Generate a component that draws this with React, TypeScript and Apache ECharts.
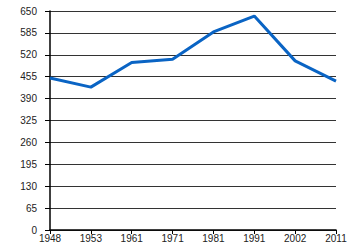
import React, { useEffect, useRef } from "react";
import * as echarts from "echarts";

const years = ["1948", "1953", "1961", "1971", "1981", "1991", "2002", "2011"];
const values = [451, 424, 497, 507, 588, 635, 502, 442];

export default function App() {
  const ref = useRef<HTMLDivElement>(null);
  useEffect(() => {
    const chart = echarts.init(ref.current!, null, { renderer: "svg" });
    chart.setOption({
      animation: false,
      backgroundColor: "#ffffff",
      grid: { left: 50, right: 14, top: 11, bottom: 20, containLabel: false },
      xAxis: {
        type: "category",
        data: years,
        boundaryGap: false,
        axisLine: { lineStyle: { color: "#000", width: 1.5 } },
        axisTick: { show: true, length: 4, alignWithLabel: true, lineStyle: { color: "#000" } },
        axisLabel: { color: "#222", fontSize: 10, fontFamily: "Liberation Sans", margin: 3, interval: 0 },
        splitLine: { show: false },
      },
      yAxis: {
        type: "value",
        min: 0,
        max: 650,
        interval: 65,
        axisLine: { show: true, lineStyle: { color: "#000", width: 1.5 } },
        axisTick: { show: true, length: 5, lineStyle: { color: "#000" } },
        axisLabel: { color: "#222", fontSize: 10, fontFamily: "Liberation Sans", margin: 13 },
        splitLine: { show: true, lineStyle: { color: "#333", width: 1 } },
      },
      series: [
        {
          type: "line",
          data: values,
          symbol: "none",
          lineStyle: { color: "#0a64c4", width: 3 },
        },
      ],
    });
    return () => chart.dispose();
  }, []);
  return <div ref={ref} style={{ width: 350, height: 250, position: "absolute", left: 0, top: 0 }} />;
}
